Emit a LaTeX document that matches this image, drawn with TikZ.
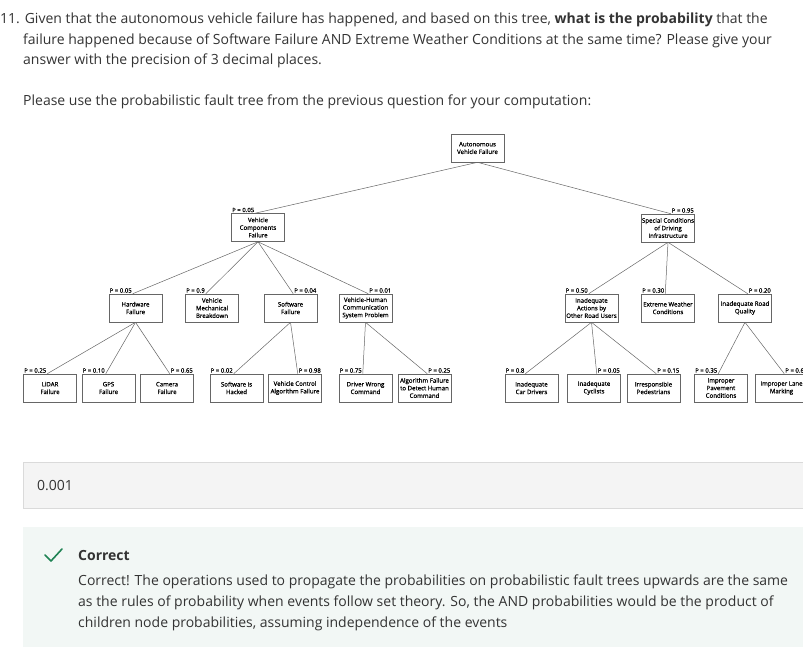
\documentclass[tikz,border=0pt]{standalone}
\usepackage{fontspec}
\setmainfont{Open Sans}
\newfontfamily\treefont{Open Sans}[FakeBold=0.6]
\definecolor{textgray}{HTML}{333333}
\definecolor{linegray}{HTML}{666666}
\definecolor{okgreen}{HTML}{1F8354}
\definecolor{ansfill}{HTML}{F4F4F4}
\definecolor{ansdraw}{HTML}{DADADA}
\definecolor{fbfill}{HTML}{F2F7F5}

\begin{document}
\begin{tikzpicture}[x=1pt,y=-1pt,
  evt/.style={draw=linegray,line width=0.6pt,fill=white,minimum width=53pt,minimum height=28pt,
    inner sep=0pt,align=center,text=black,font=\treefont\fontsize{6.1}{7.6}\selectfont},
  plab/.style={inner sep=0.8pt,text=black,font=\treefont\fontsize{6}{6.5}\selectfont},
  link/.style={draw=linegray,line width=0.5pt},
  txt/.style={anchor=base west,inner sep=0pt,text=textgray,font=\fontsize{14}{20}\selectfont}]
  \useasboundingbox (0,0) rectangle (803,665);
  \clip (0,0) rectangle (803,665);

  % question
  \node[txt] (q1) at (0,23) {11. Given that the autonomous vehicle failure has happened, and based on this tree, \textbf{what is the probability} that the};
  \node[txt] (q2) at (23,44) {failure happened because of Software Failure AND Extreme Weather Conditions at the same time? Please give your};
  \node[txt] (q3) at (23,64) {answer with the precision of 3 decimal places.};
  \node[txt] (q4) at (23,105) {Please use the probabilistic fault tree from the previous question for your computation:};

  % tree: top event
  \node[evt] (avf) at (477.5,148) {Autonomous\\Vehicle Failure};

  % level 1
  \node[evt] (vcf) at (258,227.5) {Vehicle\\Components\\Failure};
  \node[plab,anchor=south west] (vcfP) at (vcf.north west) {P = 0.05};
  \node[evt] (sc) at (668,228) {Special Conditions\\of Driving\\Infrastructure};
  \node[plab,anchor=south east] (scP) at (sc.north east) {P = 0.95};

  % level 2
  \node[evt] (hw) at (135.5,308) {Hardware\\Failure};
  \node[plab,anchor=south west] (hwP) at (hw.north west) {P = 0.05};
  \node[evt] (vm) at (212,308) {Vehicle\\Mechanical\\Breakdown};
  \node[plab,anchor=south west] (vmP) at (vm.north west) {P = 0.9};
  \node[evt] (sw) at (290.5,308) {Software\\Failure};
  \node[plab,anchor=south east] (swP) at (sw.north east) {P = 0.04};
  \node[evt] (vh) at (365.5,308) {Vehicle-Human\\Communication\\System Problem};
  \node[plab,anchor=south east] (vhP) at (vh.north east) {P = 0.01};
  \node[evt] (ia) at (591.5,308) {Inadequate\\Actions by\\Other Road Users};
  \node[plab,anchor=south west] (iaP) at (ia.north west) {P = 0.50};
  \node[evt] (ew) at (668,308) {Extreme Weather\\Conditions};
  \node[plab,anchor=south west] (ewP) at (ew.north west) {P = 0.30};
  \node[evt] (ir) at (745,308) {Inadequate Road\\Quality};
  \node[plab,anchor=south east] (irP) at (ir.north east) {P = 0.20};

  % level 3
  \node[evt] (li) at (50,388) {LiDAR\\Failure};
  \node[plab,anchor=south west] (liP) at (li.north west) {P = 0.25};
  \node[evt] (gps) at (108.5,388) {GPS\\Failure};
  \node[plab,anchor=south west] (gpsP) at (gps.north west) {P = 0.10};
  \node[evt] (cam) at (167,388) {Camera\\Failure};
  \node[plab,anchor=south east] (camP) at (cam.north east) {P = 0.65};
  \node[evt] (hk) at (236.5,388) {Software is\\Hacked};
  \node[plab,anchor=south west] (hkP) at (hk.north west) {P = 0.02};
  \node[evt] (vca) at (295,388) {Vehicle Control\\Algorithm Failure};
  \node[plab,anchor=south east] (vcaP) at (vca.north east) {P = 0.98};
  \node[evt] (dw) at (365.5,388) {Driver Wrong\\Command};
  \node[plab,anchor=south west] (dwP) at (dw.north west) {P = 0.75};
  \node[evt] (af) at (424.5,388) {Algorithm Failure\\to Detect Human\\Command};
  \node[plab,anchor=south east] (afP) at (af.north east) {P = 0.25};
  \node[evt] (cd) at (531.5,388) {Inadequate\\Car Drivers};
  \node[plab,anchor=south west] (cdP) at (cd.north west) {P = 0.8};
  \node[evt] (cy) at (594,388) {Inadequate\\Cyclists};
  \node[plab,anchor=south east] (cyP) at (cy.north east) {P = 0.05};
  \node[evt] (pe) at (653.5,388) {Irresponsible\\Pedestrians};
  \node[plab,anchor=south east] (peP) at (pe.north east) {P = 0.15};
  \node[evt] (pv) at (721,388) {Improper\\Pavement\\Conditions};
  \node[plab,anchor=south west] (pvP) at (pv.north west) {P = 0.35};
  \node[evt] (lm) at (781.5,388) {Improper Lane\\Marking};
  \node[plab,anchor=south east] (lmP) at (lm.north east) {P = 0.65};

  % connectors
  \draw[link] (avf.south) -- (vcfP.south east);
  \draw[link] (avf.south) -- (scP.south west);
  \draw[link] (vcf.south) -- (hwP.south east);
  \draw[link] (vcf.south) -- (vmP.south east);
  \draw[link] (vcf.south) -- (swP.south west);
  \draw[link] (vcf.south) -- (vhP.south west);
  \draw[link] (sc.south) -- (iaP.south east);
  \draw[link] (sc.south) -- (ewP.south east);
  \draw[link] (sc.south) -- (irP.south west);
  \draw[link] (hw.south) -- (liP.south east);
  \draw[link] (hw.south) -- (gpsP.south east);
  \draw[link] (hw.south) -- (camP.south west);
  \draw[link] (sw.south) -- (hkP.south east);
  \draw[link] (sw.south) -- (vcaP.south west);
  \draw[link] (vh.south) -- (dwP.south east);
  \draw[link] (vh.south) -- (afP.south west);
  \draw[link] (ia.south) -- (cdP.south east);
  \draw[link] (ia.south) -- (cyP.south west);
  \draw[link] (ia.south) -- (peP.south west);
  \draw[link] (ir.south) -- (pvP.south east);
  \draw[link] (ir.south) -- (lmP.south west);

  % answer box
  \draw[draw=ansdraw,fill=ansfill] (23,462) rectangle (810,508);
  \node[txt] (ans) at (37,490) {0.001};

  % feedback
  \fill[fbfill] (23,527) rectangle (810,647);
  \draw[okgreen,line width=1.6pt,line cap=round,line join=round] (45,555) -- (51,561) -- (62,549);
  \node[txt] (ok) at (78,560) {\textbf{Correct}};
  \node[txt] (fb1) at (78,585) {Correct! The operations used to propagate the probabilities on probabilistic fault trees upwards are the same};
  \node[txt] (fb2) at (78,606) {as the rules of probability when events follow set theory. So, the AND probabilities would be the product of};
  \node[txt] (fb3) at (78,627) {children node probabilities, assuming independence of the events};
\end{tikzpicture}
\end{document}
